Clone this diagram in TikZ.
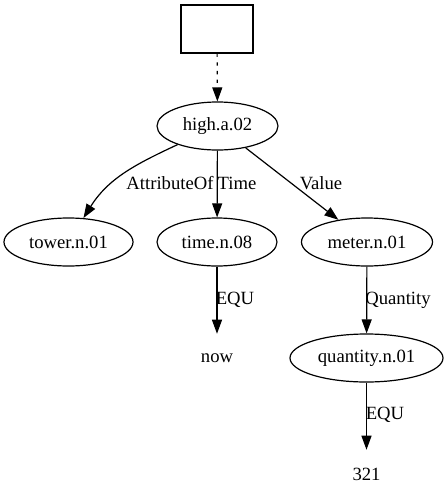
\documentclass[tikz,border=0pt]{standalone}
\usepackage{fontspec}
\setmainfont{Liberation Serif}
\newfontfamily\gvfont{Liberation Serif}
\usetikzlibrary{shapes.geometric,arrows.meta}
\begin{document}
\begin{tikzpicture}[x=0.75pt,y=-0.75pt,
  every node/.style={font=\gvfont\fontsize{14}{16}\selectfont},
  ell/.style={draw,ellipse,line width=0.9pt,inner sep=0pt,minimum height=36pt},
  plain/.style={inner sep=0pt,minimum height=36pt},
  lab/.style={inner sep=0pt},
  edge/.style={line width=0.9pt,-{Triangle[length=10.5pt,width=7.5pt]}}]
\useasboundingbox (0,0) rectangle (448,504);
\node[draw,line width=0.9pt,minimum width=54pt,minimum height=36pt,inner sep=0pt] (root) at (217,29) {};
\node[ell,minimum width=90.75pt] (high) at (217.5,126) {high.a.02};
\node[ell,minimum width=96.75pt] (tower) at (68.5,242) {tower.n.01};
\node[ell,minimum width=90pt] (time) at (217,242) {time.n.08};
\node[ell,minimum width=98.25pt] (meter) at (367,242) {meter.n.01};
\node[plain] (now) at (217,358) {now};
\node[ell,minimum width=114.75pt] (quant) at (366.5,358) {quantity.n.01};
\node[plain] (num) at (366.5,474) {321};

\draw[edge,dash pattern=on 2.5pt off 4pt] (root) -- (high);
\draw[edge] (high.205) to[out=205,in=58] (tower.58);
\draw[edge] (high) -- (time);
\draw[edge] (high) -- (meter);
\draw[edge] (time) -- (now.north);
\draw[edge] (meter) -- (quant);
\draw[edge] (quant) -- (num.north);

\node[lab] (l1) at (170,183) {AttributeOf};
\node[lab] (l2) at (237,183) {Time};
\node[lab] (l3) at (321,183) {Value};
\node[lab] (l4) at (235,300) {EQU};
\node[lab] (l5) at (398,300) {Quantity};
\node[lab] (l6) at (385,415) {EQU};
\end{tikzpicture}
\end{document}
